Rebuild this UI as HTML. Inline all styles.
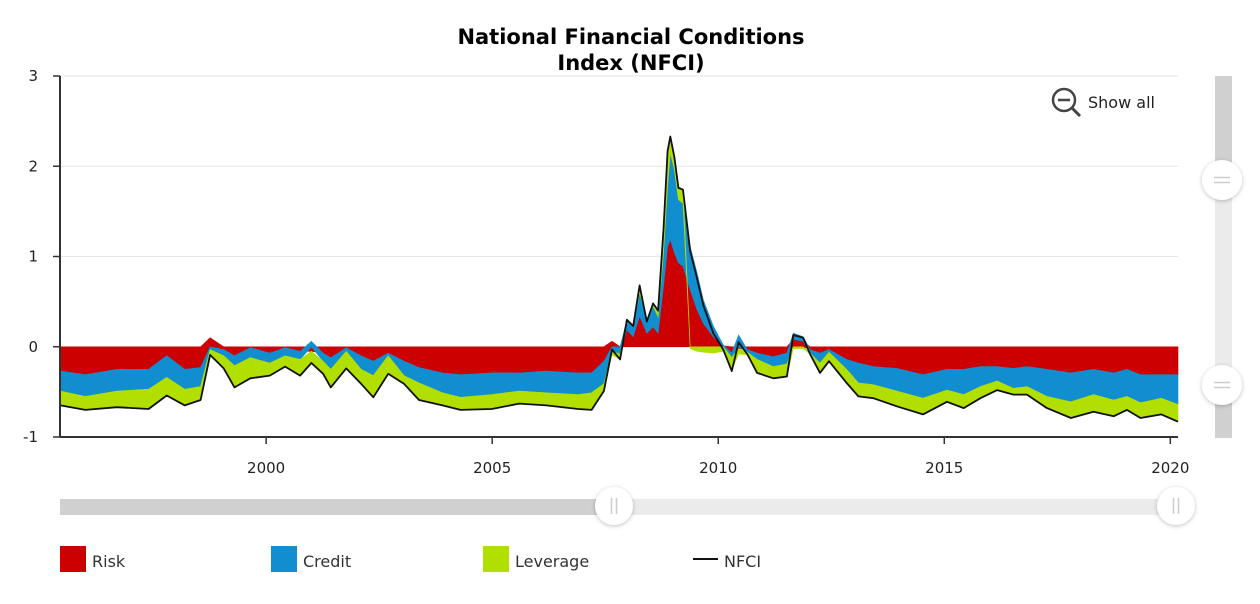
<!DOCTYPE html>
<html><head><meta charset="utf-8">
<style>
html,body{margin:0;padding:0;background:#fff;}
body{width:1260px;height:600px;overflow:hidden;font-family:"DejaVu Sans","Liberation Sans",sans-serif;}
svg text{font-family:"DejaVu Sans","Liberation Sans",sans-serif;}
</style></head>
<body>
<svg id="chart" width="1260" height="600" viewBox="0 0 1260 600">
  <defs>
    <filter id="sh" x="-50%" y="-50%" width="200%" height="200%">
      <feDropShadow dx="0" dy="1" stdDeviation="2" flood-color="#000" flood-opacity="0.25"/>
    </filter>
  </defs>
  <text x="631" y="44" text-anchor="middle" font-size="21" font-weight="bold" fill="#000">National Financial Conditions</text>
  <text x="631" y="70" text-anchor="middle" font-size="21" font-weight="bold" fill="#000">Index (NFCI)</text>
  <g id="grid"></g>
  <g id="areas"></g>
  <g id="axes"></g>
  <g style="cursor:pointer">
    <circle cx="1064" cy="100" r="11" fill="none" stroke="#444" stroke-width="2.5"/>
    <line x1="1058" y1="100" x2="1070" y2="100" stroke="#444" stroke-width="2.5"/>
    <line x1="1072" y1="108" x2="1080" y2="116" stroke="#444" stroke-width="3"/>
    <text x="1088" y="108" font-size="16" fill="#222">Show all</text>
  </g>
  <g>
    <rect x="1215" y="76" width="17" height="362" fill="#ebebeb"/>
    <rect x="1215" y="76" width="17" height="104" fill="#d0d0d0"/>
    <rect x="1215" y="385" width="17" height="53" fill="#d0d0d0"/>
    <g>
      <circle cx="1222" cy="180" r="20" fill="#fff" filter="url(#sh)"/>
      <line x1="1214" y1="177.5" x2="1230" y2="177.5" stroke="#ccc" stroke-width="1.5"/>
      <line x1="1214" y1="182.5" x2="1230" y2="182.5" stroke="#ccc" stroke-width="1.5"/>
    </g>
    <g>
      <circle cx="1222" cy="385" r="20" fill="#fff" filter="url(#sh)"/>
      <line x1="1214" y1="382.5" x2="1230" y2="382.5" stroke="#ccc" stroke-width="1.5"/>
      <line x1="1214" y1="387.5" x2="1230" y2="387.5" stroke="#ccc" stroke-width="1.5"/>
    </g>
  </g>
  <g>
    <rect x="60" y="499" width="1118" height="16" fill="#ebebeb"/>
    <rect x="60" y="499" width="554" height="16" fill="#d0d0d0"/>
    <g>
      <circle cx="614" cy="506" r="19" fill="#fff" filter="url(#sh)"/>
      <line x1="611.5" y1="498" x2="611.5" y2="514" stroke="#ccc" stroke-width="1.5"/>
      <line x1="616.5" y1="498" x2="616.5" y2="514" stroke="#ccc" stroke-width="1.5"/>
    </g>
    <g>
      <circle cx="1176" cy="506" r="19" fill="#fff" filter="url(#sh)"/>
      <line x1="1173.5" y1="498" x2="1173.5" y2="514" stroke="#ccc" stroke-width="1.5"/>
      <line x1="1178.5" y1="498" x2="1178.5" y2="514" stroke="#ccc" stroke-width="1.5"/>
    </g>
  </g>
  <g>
    <g>
      <rect x="60" y="546" width="26" height="26" fill="#cc0000"/>
      <text x="92" y="567" font-size="16" fill="#333">Risk</text>
    </g>
    <g>
      <rect x="271" y="546" width="26" height="26" fill="#118ecf"/>
      <text x="303" y="567" font-size="16" fill="#333">Credit</text>
    </g>
    <g>
      <rect x="483" y="546" width="26" height="26" fill="#b1df00"/>
      <text x="515" y="567" font-size="16" fill="#333">Leverage</text>
    </g>
    <g>
      <line x1="693" y1="559" x2="718" y2="559" stroke="#111" stroke-width="2"/>
      <text x="724" y="567" font-size="16" fill="#333">NFCI</text>
    </g>
  </g>
</svg>
<script>
const years = [1995.45,1996.0,1996.7,1997.4,1997.8,1998.2,1998.55,1998.76,1999.06,1999.3,1999.65,2000.08,2000.42,2000.75,2001.0,2001.26,2001.43,2001.77,2002.1,2002.37,2002.7,2003.05,2003.38,2003.9,2004.3,2004.99,2005.6,2006.2,2006.9,2007.2,2007.47,2007.65,2007.83,2007.98,2008.12,2008.26,2008.42,2008.56,2008.67,2008.79,2008.88,2008.94,2009.03,2009.12,2009.22,2009.38,2009.53,2009.67,2009.89,2010.11,2010.3,2010.45,2010.64,2010.86,2011.22,2011.52,2011.66,2011.88,2012.03,2012.25,2012.45,2012.84,2013.1,2013.43,2013.95,2014.53,2015.06,2015.43,2015.8,2016.17,2016.53,2016.83,2017.27,2017.8,2018.3,2018.75,2019.04,2019.34,2019.8,2020.17];
const risk = [-0.27,-0.31,-0.25,-0.25,-0.10,-0.25,-0.23,0.10,-0.03,-0.10,-0.01,-0.07,-0.01,-0.05,-0.05,-0.07,-0.12,-0.01,-0.10,-0.16,-0.07,-0.16,-0.23,-0.29,-0.31,-0.29,-0.29,-0.27,-0.29,-0.29,-0.16,0.06,0.0,0.19,0.11,0.34,0.15,0.22,0.15,0.67,1.11,1.19,1.04,0.93,0.89,0.63,0.41,0.26,0.11,0.01,-0.07,-0.02,-0.03,-0.07,-0.11,-0.07,0.08,0.06,-0.03,-0.07,-0.03,-0.14,-0.18,-0.22,-0.24,-0.31,-0.25,-0.25,-0.22,-0.22,-0.24,-0.22,-0.25,-0.29,-0.25,-0.29,-0.25,-0.31,-0.31,-0.31];
const credit = [-0.22,-0.24,-0.24,-0.22,-0.24,-0.22,-0.21,-0.03,-0.07,-0.11,-0.11,-0.11,-0.09,-0.09,0.06,-0.09,-0.13,-0.04,-0.15,-0.16,-0.03,-0.16,-0.17,-0.22,-0.25,-0.24,-0.20,-0.24,-0.24,-0.22,-0.25,-0.05,-0.08,0.11,0.12,0.26,0.15,0.23,0.18,0.37,0.67,0.96,0.92,0.70,0.70,0.48,0.41,0.26,0.12,0.01,-0.05,0.13,-0.03,-0.07,-0.11,-0.12,0.07,0.05,-0.04,-0.11,-0.03,-0.11,-0.22,-0.20,-0.25,-0.26,-0.23,-0.28,-0.22,-0.16,-0.22,-0.22,-0.30,-0.32,-0.28,-0.30,-0.30,-0.31,-0.26,-0.33];
const leverage = [-0.15,-0.14,-0.17,-0.21,-0.19,-0.17,-0.14,-0.06,-0.13,-0.23,-0.22,-0.13,-0.11,-0.17,-0.13,-0.13,-0.19,-0.18,-0.15,-0.23,-0.19,-0.08,-0.18,-0.13,-0.13,-0.15,-0.13,-0.13,-0.15,-0.18,-0.08,-0.04,-0.06,0.0,0.0,0.09,0.0,0.03,0.06,0.26,0.37,0.18,0.15,0.15,0.15,-0.02,-0.05,-0.06,-0.07,-0.05,-0.14,-0.06,-0.03,-0.14,-0.13,-0.14,-0.02,-0.02,-0.01,-0.11,-0.10,-0.15,-0.15,-0.15,-0.17,-0.18,-0.13,-0.15,-0.13,-0.10,-0.07,-0.09,-0.13,-0.18,-0.19,-0.18,-0.15,-0.17,-0.18,-0.19];
const nfci = [-0.65,-0.70,-0.67,-0.69,-0.54,-0.65,-0.59,-0.09,-0.24,-0.45,-0.35,-0.32,-0.22,-0.32,-0.18,-0.30,-0.45,-0.24,-0.41,-0.56,-0.30,-0.41,-0.59,-0.65,-0.70,-0.69,-0.63,-0.65,-0.69,-0.70,-0.49,-0.03,-0.14,0.30,0.23,0.68,0.28,0.48,0.40,1.30,2.17,2.33,2.10,1.76,1.74,1.06,0.76,0.46,0.15,-0.03,-0.27,0.05,-0.08,-0.29,-0.35,-0.33,0.13,0.10,-0.08,-0.29,-0.16,-0.40,-0.55,-0.57,-0.66,-0.75,-0.61,-0.68,-0.57,-0.48,-0.53,-0.53,-0.68,-0.79,-0.72,-0.77,-0.70,-0.79,-0.75,-0.83];
const yTicks = [-1,0,1,2,3];
const xTicks = [2000,2005,2010,2015,2020];

const NS='http://www.w3.org/2000/svg';
const X0=60, X1=1178, Y0=437, Y1=76;
const yearMin=1995.44, yearMax=2020.17;
function xs(yr){return X0+(yr-yearMin)*(X1-X0)/(yearMax-yearMin);}
function ys(v){return Y0-(v-(-1))*(Y0-Y1)/4;}
function mk(tag,attrs,parent){const e=document.createElementNS(NS,tag);for(const k in attrs)e.setAttribute(k,attrs[k]);parent.appendChild(e);return e;}

const grid=document.getElementById('grid'), areas=document.getElementById('areas'), axes=document.getElementById('axes');
yTicks.forEach(t=>{
  if(t>0){const g=mk('line',{x1:X0,x2:X1,y1:ys(t),y2:ys(t),stroke:'#e6e6e6','stroke-width':1},grid);
  
  }
  const tk=mk('line',{x1:X0-7,x2:X0,y1:ys(t),y2:ys(t),stroke:'#333','stroke-width':1.5},axes);
  
  
  const lb=mk('text',{x:X0-22,y:ys(t)+5,'text-anchor':'end','font-size':15,fill:'#222'},axes);
  lb.textContent=String(t);
  
  
});
xTicks.forEach(t=>{
  const tk=mk('line',{x1:xs(t),x2:xs(t),y1:Y0,y2:Y0+7,stroke:'#333','stroke-width':1.5},axes);
  
  
  const lb=mk('text',{x:xs(t),y:Y0+36,'text-anchor':'middle','font-size':15,fill:'#222'},axes);
  lb.textContent=String(t);
  
  
});
const ya=mk('line',{x1:X0,x2:X0,y1:Y1,y2:Y0,stroke:'#333','stroke-width':2},axes);


const xa=mk('line',{x1:X0,x2:X1,y1:Y0,y2:Y0,stroke:'#333','stroke-width':2},axes);



const series=[['risk',risk,'#cc0000'],['credit',credit,'#118ecf'],['leverage',leverage,'#b1df00']];
const pos=years.map(()=>0), neg=years.map(()=>0);
series.forEach(([name,vals,color])=>{
  const lo=[],hi=[];
  vals.forEach((v,i)=>{
    if(v>=0){lo.push(pos[i]);pos[i]+=v;hi.push(pos[i]);}
    else{hi.push(neg[i]);neg[i]+=v;lo.push(neg[i]);}
  });
  let d='';
  years.forEach((yr,i)=>{d+=(i?'L':'M')+xs(yr).toFixed(1)+','+ys(hi[i]).toFixed(1);});
  for(let i=years.length-1;i>=0;i--){d+='L'+xs(years[i]).toFixed(1)+','+ys(lo[i]).toFixed(1);}
  d+='Z';
  const p=mk('path',{d:d,fill:color,stroke:color,'stroke-width':0.6},areas);
  
  
});
let ld='';
years.forEach((yr,i)=>{ld+=(i?'L':'M')+xs(yr).toFixed(1)+','+ys(nfci[i]).toFixed(1);});
const ln=mk('path',{d:ld,fill:'none',stroke:'#111','stroke-width':1.8,'stroke-linejoin':'round'},areas);


</script>
</body></html>
